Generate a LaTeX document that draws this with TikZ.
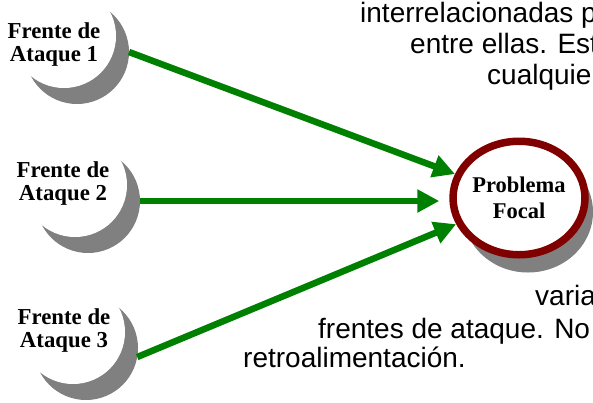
\documentclass[tikz,border=0pt]{standalone}
\usepackage{fontspec}
\setmainfont{Liberation Serif}
\newfontfamily\bodyfont{Liberation Sans}
\usetikzlibrary{arrows.meta,shapes.geometric}
\definecolor{arrowgreen}{RGB}{0,128,0}
\definecolor{shadowgray}{RGB}{128,128,128}
\definecolor{focalred}{RGB}{128,0,0}
\begin{document}
\begin{tikzpicture}[x=1pt,y=-1pt,
  shadowc/.style={circle, fill=shadowgray, draw=none, minimum size=104pt, inner sep=0pt, outer sep=0pt},
  discc/.style={circle, fill=white, draw=none, minimum size=104pt, inner sep=0pt, outer sep=0pt},
  labeltext/.style={align=center, inner sep=0pt, font=\bfseries\fontsize{22.8}{23}\selectfont},
  flow/.style={draw=arrowgreen, line width=6.5pt, -{Triangle[length=22pt,width=22pt]}},
  body/.style={anchor=base west, inner sep=0pt, font=\bodyfont\fontsize{28}{32}\selectfont}
]
\useasboundingbox (0,0) rectangle (593,402);
\clip (0,0) rectangle (593,402);

% attack fronts
\node[shadowc] (s1) at (77,52) {};
\node[discc] (w1) at (64,36) {};
\node[labeltext] (f1) at (54,45) {Frente de\\Ataque 1};

\node[shadowc] (s2) at (88,201) {};
\node[discc] (w2) at (75,185) {};
\node[labeltext] (f2) at (63,184) {Frente de\\Ataque 2};

\node[shadowc] (s3) at (86,348) {};
\node[discc] (w3) at (73,332) {};
\node[labeltext] (f3) at (64,331) {Frente de\\Ataque 3};

% focal problem
\node[ellipse, fill=shadowgray, minimum width=130pt, minimum height=121pt, inner sep=0pt] (ps) at (528,212) {};
\node[ellipse, fill=white, draw=focalred, line width=7.5pt, minimum width=122.5pt, minimum height=113.5pt, inner sep=0pt,
      align=center, font=\bfseries\fontsize{22.5}{26}\selectfont] (pf) at (519,198) {Problema\\Focal};

% arrows
\draw[flow] (s1.east) -- (pf);
\draw[flow, shorten >=10pt] (s2.east) -- (s2.east -| pf.west);
\draw[flow] (s3.-10) -- (pf);

% surrounding text (cut by the frame)
\node[body] (t1) at (360,22) {interrelacionadas p};
\node[body] (t2) at (410,53) {entre ellas. Est};
\node[body] (t3) at (487,84) {cualquie};
\node[body] (t4) at (535,305) {varia};
\node[body] (t5) at (318,338) {frentes de ataque. No};
\node[body] (t6) at (243,367) {retroalimentación.};
\end{tikzpicture}
\end{document}
